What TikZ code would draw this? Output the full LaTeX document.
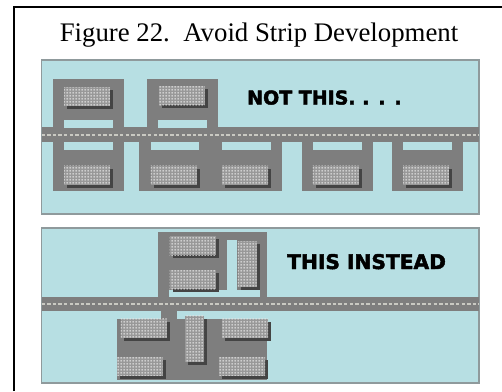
\documentclass[tikz,border=0pt]{standalone}
\usepackage{fontspec}
\setmainfont{Liberation Serif}
\newfontfamily\signfont[BoldFeatures={FakeBold=2.2}]{DejaVu Sans}
\usepackage{tikz}
\usetikzlibrary{patterns, shadows}
\definecolor{panelblue}{HTML}{B7DFE3}
\definecolor{paneledge}{HTML}{8F9A9C}
\definecolor{lotgray}{HTML}{7E7E7E}
\definecolor{roofgray}{HTML}{989898}
\definecolor{roofdot}{HTML}{E2E2E2}
\definecolor{shadowgray}{HTML}{444444}
\definecolor{roadmark}{HTML}{C9C9C2}
\pgfdeclarepatternformonly{roofdots}{\pgfpointorigin}{\pgfqpoint{3pt}{3pt}}{\pgfqpoint{3pt}{3pt}}{
	\pgfpathcircle{\pgfqpoint{1.5pt}{1.5pt}}{1.1pt}
	\pgfusepath{fill}
}
\tikzset{
    panel/.style={fill=panelblue, draw=paneledge, line width=1.2pt},
    lot/.style={fill=lotgray},
    strip/.style={fill=panelblue},
    roadline/.style={draw=roadmark, line width=1.5pt, dash pattern=on 3.4pt off 2.2pt},
    building/.style={
        rectangle, inner sep=0pt, fill=roofgray,
        drop shadow={shadow xshift=3pt, shadow yshift=-3pt, fill=shadowgray, opacity=1},
        postaction={pattern=roofdots, pattern color=roofdot}
    },
    hbuilding/.style={building, minimum width=46pt, minimum height=19pt},
    vbuilding/.style={building, minimum width=19pt, minimum height=46pt},
    sign/.style={inner sep=0pt, anchor=base west, text=black, font=\signfont\bfseries\fontsize{#1}{21}\selectfont}
}

\begin{document}
\begin{tikzpicture}[x=1pt,y=-1pt]
	\useasboundingbox (0,0) rectangle (502,391);
	\draw[line width=2pt] (13.5,391) -- (13.5,6.5) -- (502,6.5);
	\node[inner sep=0pt, anchor=base, font=\fontsize{26.8}{30}\selectfont] at (259,41.5) (title) {Figure 22.\ \ Avoid Strip Development};

	% not this
	\draw[panel] (41.5,60) rectangle (479,214);
	\fill[lot] (41.5,127) rectangle (479,142);
	\fill[lot] (53,79) rectangle (124,127);
	\fill[lot] (147,79) rectangle (218,127);
	\fill[lot] (53,142) rectangle (124,191);
	\fill[lot] (139,142) rectangle (282,191);
	\fill[lot] (302,142) rectangle (373,191);
	\fill[lot] (392,142) rectangle (463,191);
	\fill[strip] (64,120) rectangle (113,128);
	\fill[strip] (158,120) rectangle (207,128);
	\fill[strip] (64,142) rectangle (113,150);
	\fill[strip] (151,142) rectangle (199,150);
	\fill[strip] (222,142) rectangle (271,150);
	\fill[strip] (313,142) rectangle (362,150);
	\fill[strip] (403,142) rectangle (452,150);
	\draw[roadline] (41.5,135) -- (479,135);
	\node[hbuilding] at (87,96.5) (topa) {};
	\node[hbuilding] at (181.5,95.5) (topb) {};
	\node[hbuilding] at (87,175) (lowa) {};
	\node[hbuilding] at (173.5,175) (lowb) {};
	\node[hbuilding] at (245,175) (lowc) {};
	\node[hbuilding] at (335.5,175) (lowd) {};
	\node[hbuilding] at (426,175) (lowe) {};
	\node[sign=19] at (247,104.5) (notthis) {NOT THIS. . . .};

	% this instead
	\draw[panel] (41.5,228) rectangle (479,383);
	\fill[lot] (41.5,297) rectangle (479,311);
	\fill[lot] (158,232) rectangle (267,297);
	\fill[strip] (227,240) rectangle (237,290);
	\fill[strip] (169,290) rectangle (260,297);
	\fill[lot] (161,311) rectangle (177,319);
	\fill[lot] (117,319) rectangle (267,380);
	\draw[roadline] (41.5,304) -- (479,304);
	\node[hbuilding] at (192.5,245.5) (upa) {};
	\node[hbuilding] at (192.5,279.5) (upb) {};
	\node[vbuilding] at (247,264) (upc) {};
	\node[hbuilding] at (143.5,328) (downa) {};
	\node[hbuilding] at (139.5,366) (downb) {};
	\node[vbuilding] at (194.5,338.5) (downc) {};
	\node[hbuilding] at (245,328) (downd) {};
	\node[hbuilding] at (242,366) (downe) {};
	\node[sign=20.2] at (287,269) (thisinstead) {THIS INSTEAD};
\end{tikzpicture}
\end{document}
